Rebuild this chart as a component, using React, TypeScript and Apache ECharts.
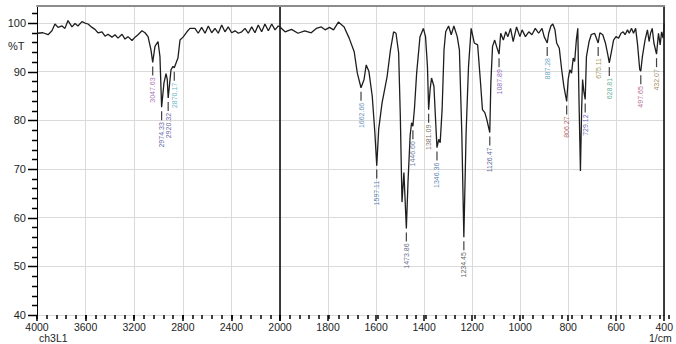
import React, { useEffect, useRef } from "react";
import * as echarts from "echarts";

// IR spectrum (wavenumber in 1/cm, transmittance in %T), read from high to low wavenumber
const wavenumbers = [
  4000, 3951, 3909, 3877, 3852, 3827, 3794, 3770, 3745, 3712, 3687, 3663, 3630, 3605, 3580, 3547,
  3523, 3498, 3465, 3440, 3416, 3383, 3358, 3333, 3300, 3276, 3251, 3218, 3193, 3169, 3136, 3111,
  3086, 3062, 3047.63, 3029, 3004, 2988, 2974.33, 2955, 2938, 2928, 2920.32, 2897, 2881, 2870.17,
  2840, 2823, 2798, 2766, 2741, 2700, 2673, 2645, 2617, 2590, 2562, 2535, 2508, 2480, 2453, 2426,
  2398, 2370, 2343, 2315, 2288, 2261, 2233, 2206, 2179, 2151, 2124, 2096, 2068, 2041, 2014, 2000,
  1979, 1952, 1925, 1897, 1870, 1849, 1828, 1812, 1794, 1777, 1757, 1733, 1712, 1691, 1678, 1662.66,
  1650, 1641, 1630, 1616, 1605, 1597.11, 1589, 1575, 1554, 1540, 1527, 1517, 1506, 1499, 1492, 1484,
  1473.86, 1467, 1458, 1452, 1446.66, 1440, 1431, 1417, 1403, 1394, 1386, 1381.09, 1375, 1369, 1359,
  1353, 1346.36, 1339, 1333, 1325, 1317, 1310, 1298, 1287, 1276, 1262, 1253, 1243, 1234.45, 1225,
  1215, 1204, 1191, 1177, 1166, 1157, 1147, 1139, 1126.47, 1122, 1115, 1106, 1097, 1087.89, 1081,
  1070, 1060, 1051, 1040, 1029, 1015, 1001, 992, 978, 964, 951, 937, 923, 909, 900, 887.28, 881, 872,
  864, 855, 848, 837, 827, 818, 806.27, 800, 793, 786, 779, 773, 766, 760, 755, 749, 744, 740, 735,
  729.12, 724, 713, 704, 690, 675.11, 668, 656, 645, 635, 628.81, 621, 611, 601, 590, 580, 571, 563,
  553, 546, 536, 528, 519, 511, 502, 497.65, 491, 480, 470, 463, 457, 450, 443, 432.07, 424, 417, 411,
  405, 400,
];

const transmittance = [
  97.9, 98.0, 97.6, 98.4, 99.8, 99.1, 99.4, 98.9, 100.5, 99.2, 99.9, 99.4, 100.3, 100.0, 99.8, 99.1,
  98.7, 98.0, 98.2, 97.3, 97.7, 97.1, 97.6, 96.9, 97.7, 96.7, 97.2, 96.4, 97.1, 97.6, 98.4, 98.0,
  97.2, 94.5, 91.9, 95.2, 96.2, 93.1, 82.7, 87.7, 89.6, 88.4, 84.6, 90.4, 91.1, 90.8,
  92.8, 96.5, 97.1, 98.2, 98.9, 98.9, 97.9, 99.1, 97.9, 99.4, 98.0, 98.9, 97.9, 99.6, 98.2, 99.2,
  98.0, 98.4, 97.9, 98.2, 98.9, 97.9, 99.2, 98.0, 99.6, 98.2, 99.8, 98.4, 99.8, 98.6, 99.4, 99.2,
  98.2, 98.7, 97.9, 98.4, 98.0, 98.9, 99.2, 98.6, 99.1, 98.6, 100.2, 99.2, 96.9, 94.1, 89.7, 86.7,
  88.4, 91.4, 90.1, 85.0, 77.5, 70.7, 78.2, 83.6, 89.0, 94.5, 98.2, 97.9, 93.9, 80.9, 63.2, 69.3,
  57.8, 67.3, 77.0, 79.5, 78.8, 82.5, 89.7, 97.2, 98.9, 97.2, 91.1, 82.2, 86.3, 88.7, 87.0,
  80.9, 74.4, 76.1, 75.4, 82.2, 94.5, 98.2, 99.4, 97.6, 99.4, 97.2, 94.5, 77.5, 56.0, 77.5,
  91.1, 98.9, 95.9, 95.5, 88.4, 82.2, 81.6, 80.2, 77.5, 87.7, 95.2, 96.5, 95.0, 93.6, 97.9,
  96.5, 98.2, 97.2, 98.9, 96.2, 99.2, 97.2, 98.6, 97.2, 98.2, 97.6, 98.9, 97.9, 98.9, 97.2, 95.9, 97.9, 99.4,
  99.8, 98.6, 95.9, 94.8, 90.4, 87.0, 83.9, 88.4, 90.4, 89.7, 92.8, 92.1, 96.5, 98.9, 84.3, 69.6, 82.2, 88.4, 86.0,
  84.3, 93.1, 96.2, 97.6, 97.9, 95.9, 98.0, 97.6, 95.9, 93.5, 91.8, 93.8, 96.5, 97.2, 96.9, 97.9, 98.2, 97.6,
  98.6, 97.9, 98.9, 97.9, 98.9, 95.5, 90.4, 90.1, 93.1, 96.5, 98.6, 96.2, 97.9, 98.9, 95.9, 93.6, 97.9, 95.5, 98.2,
  96.9, 99.9,
];

// Picked peaks
const peakWavenumbers = [
  3047.63, 2974.33, 2920.32, 2870.17, 1662.66, 1597.11, 1473.86, 1446.66, 1381.09, 1346.36,
  1234.45, 1126.47, 1087.89, 887.28, 806.27, 729.12, 675.11, 628.81, 497.65, 432.07,
];
const peakTransmittance = [
  91.9, 82.7, 84.6, 90.8, 86.7, 70.7, 57.8, 78.8, 82.2, 74.4,
  56.0, 77.5, 93.6, 95.9, 83.9, 84.3, 95.9, 91.8, 90.1, 93.6,
];
const peakLabelColors = [
  "#8a4f9e", "#34348f", "#45388a", "#3a9fb3", "#3a76b0", "#2f5c9e", "#3b3b66", "#4a5a80", "#5a4a3a", "#2f5fa6",
  "#333333", "#2d3b7d", "#6b3db0", "#3a8db0", "#a03a3a", "#3c3cae", "#8a7a30", "#3a9a78", "#a23a68", "#8a6a30",
];

// Axis ranges: the scale doubles below 2000 1/cm
const xTicksHigh = { min: 2000, max: 4000, step: 400, minorStep: 80 };
const xTicksLow = { min: 400, max: 2000, step: 200, minorStep: 40 };
const yRange = { min: 40, max: 103.5, step: 10, minorStep: 2 };

const BREAK_AT = 2000;
const FONT = "'Liberation Sans', Arial, sans-serif";
const INK = "#1e1e1e";
const TICK = "#000000";
const GRID_LINE = "#dadada";

export default function App() {
  const ref = useRef<HTMLDivElement>(null);

  useEffect(() => {
    if (!ref.current) return;
    const chart = echarts.init(ref.current, undefined, { renderer: "svg" });

    const spectrum = wavenumbers.map((w, i) => [w, transmittance[i]]);
    const highPart = spectrum.filter((p) => p[0] >= BREAK_AT);
    const lowPart = spectrum.filter((p) => p[0] <= BREAK_AT);

    const peaks = peakWavenumbers.map((w, i) => ({
      value: [w, peakTransmittance[i]],
      label: { color: peakLabelColors[i] },
    }));
    const highPeaks = peaks.filter((p) => p.value[0] >= BREAK_AT);
    const lowPeaks = peaks.filter((p) => p.value[0] < BREAK_AT);

    type Range = { min: number; max: number; step: number; minorStep: number };

    const bottomAxis = (gridIndex: number, r: Range, hideMin: boolean) => ({
      type: "value",
      gridIndex,
      min: r.min,
      max: r.max,
      interval: r.step,
      inverse: true,
      axisLine: { show: false },
      axisTick: { show: true, length: 6, lineStyle: { color: TICK, width: 1.5 } },
      axisLabel: {
        fontSize: 10.5,
        fontFamily: FONT,
        color: INK,
        margin: 6,
        formatter: (v: number) => (hideMin && v === r.min ? "" : String(v)),
      },
      splitLine: { show: true, lineStyle: { color: GRID_LINE, width: 1 } },
    });

    // Short ticks between the labelled ones
    const minorXAxis = (gridIndex: number, r: Range) => ({
      type: "value",
      gridIndex,
      min: r.min,
      max: r.max,
      interval: r.minorStep,
      inverse: true,
      axisLine: { show: false },
      axisTick: { show: true, length: 4, lineStyle: { color: TICK, width: 1.5 } },
      axisLabel: { show: false },
      splitLine: { show: false },
    });

    const topBorder = (gridIndex: number, r: Range) => ({
      type: "value",
      gridIndex,
      min: r.min,
      max: r.max,
      inverse: true,
      position: "top",
      axisLine: { show: true, lineStyle: { color: "#8c8c8c", width: 2 } },
      axisTick: { show: false },
      axisLabel: { show: false },
      splitLine: { show: false },
    });

    const peakLabel = {
      show: true,
      position: "bottom",
      distance: 2,
      rotate: 90,
      align: "right",
      verticalAlign: "middle",
      fontSize: 7,
      fontFamily: FONT,
      formatter: (p: any) => p.value[0].toFixed(2),
    };

    const peakSeries = (idx: number, data: any[]) => ({
      type: "scatter",
      xAxisIndex: idx,
      yAxisIndex: idx,
      data,
      symbol: "rect",
      symbolSize: [1.2, 9],
      symbolOffset: [0, 8.5],
      itemStyle: { color: "#111" },
      label: peakLabel,
      silent: true,
      z: 3,
    });

    const leftRect = { left: 37, top: 6, width: 243, bottom: 29 };
    const rightRect = { left: 280, top: 6, width: 389, bottom: 29 };

    const staticText = [
      { type: "text", left: 8, top: 40, style: { text: "%T", font: `11px ${FONT}`, fill: INK } },
      { type: "text", left: 39, top: 332, style: { text: "ch3L1", font: `10.5px ${FONT}`, fill: INK } },
      { type: "text", left: 649, top: 332, style: { text: "1/cm", font: `10.5px ${FONT}`, fill: INK } },
    ];

    chart.setOption({
      animation: false,
      backgroundColor: "#ffffff",
      grid: [leftRect, rightRect, { ...leftRect }, { ...rightRect }],
      xAxis: [
        bottomAxis(0, xTicksHigh, true),
        bottomAxis(1, xTicksLow, false),
        topBorder(0, xTicksHigh),
        topBorder(1, xTicksLow),
        minorXAxis(2, xTicksHigh),
        minorXAxis(3, xTicksLow),
      ],
      yAxis: [
        {
          type: "value",
          gridIndex: 0,
          min: yRange.min,
          max: yRange.max,
          interval: yRange.step,
          axisLine: { show: true, lineStyle: { color: "#000", width: 1 } },
          axisTick: { show: false },
          axisLabel: {
            fontSize: 11,
            fontFamily: FONT,
            color: INK,
            margin: 11,
            formatter: (v: number) => (v <= 100 && v % 10 === 0 ? String(v) : ""),
          },
          splitLine: { show: true, lineStyle: { color: GRID_LINE, width: 1 } },
        },
        {
          type: "value",
          gridIndex: 1,
          min: yRange.min,
          max: yRange.max,
          interval: yRange.step,
          axisLine: { show: true, lineStyle: { color: "#000", width: 1.5 } },
          axisTick: { show: false },
          axisLabel: { show: false },
          splitLine: { show: true, lineStyle: { color: GRID_LINE, width: 1 } },
        },
        {
          type: "value",
          gridIndex: 1,
          position: "right",
          min: yRange.min,
          max: yRange.max,
          axisLine: { show: true, lineStyle: { color: "#000", width: 1.5 } },
          axisTick: { show: false },
          axisLabel: { show: false },
          splitLine: { show: false },
        },
        {
          type: "value",
          gridIndex: 2,
          min: yRange.min,
          max: yRange.max,
          axisLine: { show: false },
          axisTick: { show: false },
          axisLabel: { show: false },
          splitLine: { show: false },
        },
        {
          type: "value",
          gridIndex: 3,
          min: yRange.min,
          max: yRange.max,
          axisLine: { show: false },
          axisTick: { show: false },
          axisLabel: { show: false },
          splitLine: { show: false },
        },
      ],
      series: [
        {
          type: "line",
          xAxisIndex: 0,
          yAxisIndex: 0,
          data: highPart,
          showSymbol: false,
          lineStyle: { color: INK, width: 1.3 },
          silent: true,
          z: 2,
        },
        {
          type: "line",
          xAxisIndex: 1,
          yAxisIndex: 1,
          data: lowPart,
          showSymbol: false,
          lineStyle: { color: INK, width: 1.3 },
          silent: true,
          z: 2,
        },
        peakSeries(0, highPeaks),
        peakSeries(1, lowPeaks),
      ],
      graphic: staticText,
    });

    // %T tick marks on the left edge, placed through the y scale of the first grid
    const tickLines: any[] = [];
    for (let v = yRange.min; v <= yRange.max; v += yRange.minorStep) {
      const isMajor = v % yRange.step === 0;
      const pt = chart.convertToPixel({ gridIndex: 0 }, [xTicksHigh.max, v]) as number[];
      if (!pt) continue;
      const y = Math.round(pt[1]) + 0.5;
      const x = Math.round(pt[0]);
      tickLines.push({
        type: "line",
        silent: true,
        z: 10,
        shape: { x1: x - (isMajor ? 9 : 5), y1: y, x2: x, y2: y },
        style: { stroke: TICK, lineWidth: 1.5 },
      });
    }
    chart.setOption({ graphic: [...staticText, ...tickLines] });

    return () => chart.dispose();
  }, []);

  return (
    <div
      ref={ref}
      style={{ position: "fixed", left: 0, top: 0, width: 676, height: 344, background: "#fff" }}
    />
  );
}
